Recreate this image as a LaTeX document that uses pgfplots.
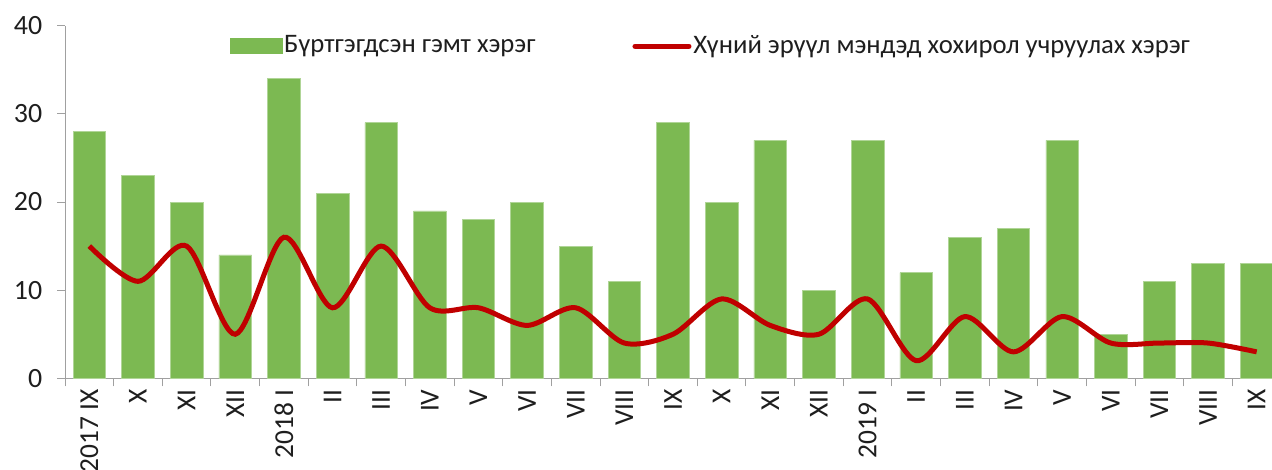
\documentclass[border=0pt]{standalone}
\usepackage{fontspec}
\setmainfont{Carlito}
\usepackage{pgfplots}
\pgfplotsset{compat=1.18}
\definecolor{barg}{RGB}{124,185,82}
\definecolor{liner}{RGB}{192,0,0}
\definecolor{axg}{RGB}{160,160,160}
\definecolor{txt}{RGB}{30,30,30}
\begin{document}
\fontsize{26}{30}\selectfont
\begin{tikzpicture}
\useasboundingbox (-65bp,-91.7bp) rectangle (1207bp,378.3bp);
\begin{axis}[
 at={(0,0)}, anchor=south west,
 scale only axis, width=1216bp, height=352.6bp,
 xmin=-0.5, xmax=24.5, ymin=0, ymax=40,
 axis x line=bottom, axis y line=left,
 axis line style={-, draw=axg, line width=1bp},
 xtick={-0.5,0.5,...,24.5}, x tick label as interval,
 xticklabels={2017 IX, X, XI, XII, 2018 I, II, III, IV, V, VI, VII, VIII, IX, X, XI, XII, 2019 I, II, III, IV, V, VI, VII, VIII, IX},
 ytick={0,10,20,30,40},
 tick align=outside, major tick length=8bp,
 tick style={draw=axg, line width=1bp},
 xticklabel style={rotate=90, anchor=east, font=\fontsize{27.5}{30}\selectfont, inner sep=3bp, text=txt},
 yticklabel style={font=\fontsize{28}{30}\selectfont, xshift=-6bp, text=txt},
 /pgf/number format/assume math mode=true,
 legend style={at={(0.531,0.942)}, anchor=center, draw=none, fill=none, font=\fontsize{26.8}{30}\selectfont, text=txt, legend columns=2, /tikz/every even column/.append style={column sep=95bp}},
 legend cell align=left,
]
\addplot[ybar, fill=barg, draw=barg!60!white, line width=0.6bp, bar width=0.67, bar shift=0pt,
 legend image code/.code={\fill[barg] (0bp,-7.5bp) rectangle (52bp,7.5bp);}]
 coordinates {(0,28)(1,23)(2,20)(3,14)(4,34)(5,21)(6,29)(7,19)(8,18)(9,20)(10,15)(11,11)(12,29)(13,20)(14,27)(15,10)(16,27)(17,12)(18,16)(19,17)(20,27)(21,5)(22,11)(23,13)(24,13)};
\addlegendentry{Бүртгэгдсэн гэмт хэрэг}
\addplot[liner, line width=5bp, smooth, tension=0.5, mark=none,
 legend image code/.code={\draw[liner, line width=5bp, line cap=round] (0bp,0bp) -- (54bp,0bp);}]
 coordinates {(0,15)(1,11)(2,15)(3,5)(4,16)(5,8)(6,15)(7,8)(8,8)(9,6)(10,8)(11,4)(12,5)(13,9)(14,6)(15,5)(16,9)(17,2)(18,7)(19,3)(20,7)(21,4)(22,4)(23,4)(24,3)};
\addlegendentry{Хүний эрүүл мэндэд хохирол учруулах хэрэг}
\end{axis}
\end{tikzpicture}
\end{document}
